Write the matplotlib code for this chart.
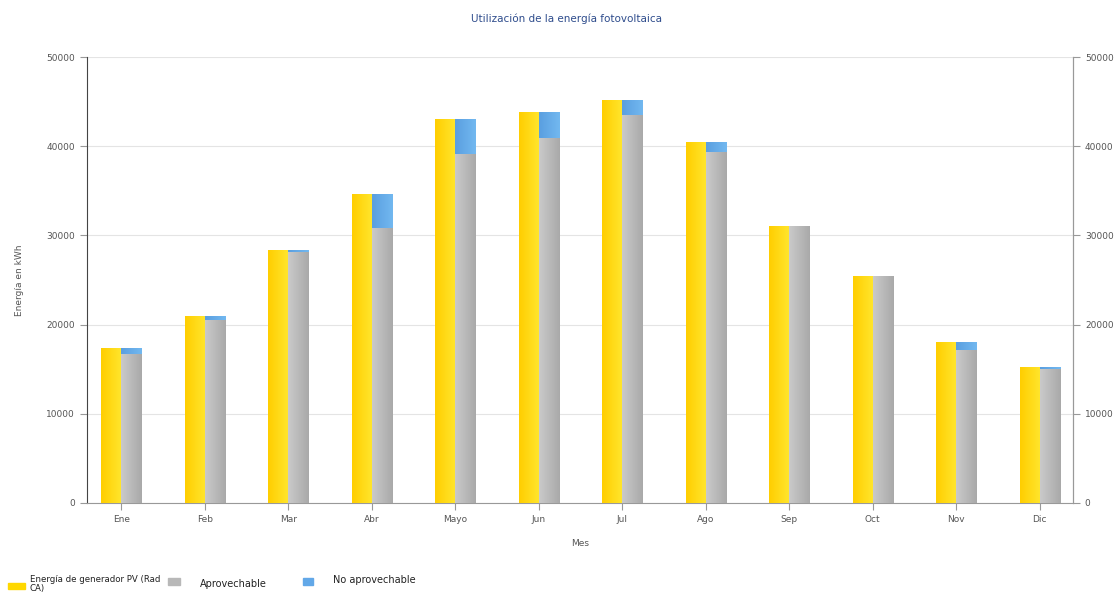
import matplotlib
matplotlib.use("Agg")
import matplotlib.pyplot as plt
import matplotlib.patches as mpatches
from matplotlib.colors import LinearSegmentedColormap
import numpy as np

# Datos (kWh)
meses = ["Ene", "Feb", "Mar", "Abr", "Mayo", "Jun", "Jul", "Ago", "Sep", "Oct", "Nov", "Dic"]
energia_pv = [17400, 21000, 28400, 34600, 43000, 43800, 45200, 40500, 31000, 25500, 18000, 15300]
aprovechable = [16700, 20500, 28100, 30800, 39100, 40900, 43500, 39300, 31000, 25500, 17100, 15000]
no_aprovechable = [pv - ap for pv, ap in zip(energia_pv, aprovechable)]
leyenda = ["Energía de generador PV (Rad\nCA)", "Aprovechable", "No aprovechable"]

amarillo = "#FFD800"
gris = "#B8B8B8"
azul = "#62A8E8"
texto = "#555555"

grad_amarillo = LinearSegmentedColormap.from_list("am", ["#FFCE00", "#FFE62E"])
grad_gris = LinearSegmentedColormap.from_list("gr", ["#CACACA", "#A9A9A9"])
grad_azul = LinearSegmentedColormap.from_list("az", ["#5A9FE0", "#72B8F0"])

W, H = 1118, 594
fig = plt.figure(figsize=(W / 100, H / 100), dpi=100)
ax = fig.add_axes([0.0778, 0.1532, 0.882, 0.7508])

x = np.arange(len(meses))
w = 0.24
b1 = ax.bar(x - w / 2, energia_pv, w, color=amarillo, zorder=3)
b2 = ax.bar(x + w / 2, aprovechable, w, color=gris, zorder=3)
b3 = ax.bar(x + w / 2, no_aprovechable, w, bottom=aprovechable, color=azul, zorder=3)

# degradado horizontal dentro de cada barra
grad = np.linspace(0, 1, 64).reshape(1, -1)
for barras, cmap in [(b1, grad_amarillo), (b2, grad_gris), (b3, grad_azul)]:
    for b in barras:
        x0, y0 = b.get_x(), b.get_y()
        x1, y1 = x0 + b.get_width(), y0 + b.get_height()
        if y1 - y0 <= 0:
            continue
        im = ax.imshow(grad, extent=[x0, x1, y0, y1], aspect="auto", cmap=cmap, zorder=3.5,
                       interpolation="bicubic")
        im.set_clip_path(b)

ax.set_xlim(-0.41, 11.4)
ax.set_ylim(0, 50000)
ax.set_yticks(np.arange(0, 50001, 10000))
ax.set_xticks(x)
ax.set_xticklabels(meses)
ax.grid(axis="y", color="#E4E4E4", linewidth=0.8, zorder=0)

ax.spines["top"].set_visible(False)
ax.spines["left"].set_color("#444444")
ax.spines["right"].set_color("#999999")
ax.spines["bottom"].set_color("#999999")
ax.tick_params(axis="both", labelsize=6.5, colors="#999999", labelcolor=texto, length=5)

ax2 = ax.twinx()
ax2.set_ylim(0, 50000)
ax2.set_yticks(np.arange(0, 50001, 10000))
for s in ["top", "left", "bottom"]:
    ax2.spines[s].set_visible(False)
ax2.spines["right"].set_color("#999999")
ax2.tick_params(axis="y", labelsize=6.5, colors="#999999", labelcolor=texto, length=5)

ax.set_xlabel("Mes", fontsize=6.5, color=texto, labelpad=11)
ax.set_ylabel("Energía en kWh", fontsize=6.5, color=texto, labelpad=16)
fig.text(0.507, 0.968, "Utilización de la energía fotovoltaica", ha="center", va="center",
         fontsize=7.5, color="#2E4C8C")

# leyenda colocada a mano (px desde arriba-izquierda)
def px(xp, yp):
    return xp / W, 1 - yp / H

items = [
    # color, caja (x, y, ancho, alto), texto (x, y), tamaño
    (amarillo, (8, 589, 17, 6), (30, 584), 6.2),
    (gris, (168, 585, 12, 7), (200, 584), 7),
    (azul, (303, 585, 10, 7), (333, 580), 7),
]
for (col, caja, pos_txt, fs), etiqueta in zip(items, leyenda):
    bx, by = px(caja[0], caja[1])
    fig.patches.append(mpatches.Rectangle((bx, by), caja[2] / W, caja[3] / H, color=col,
                                          transform=fig.transFigure, figure=fig))
    tx, ty = px(*pos_txt)
    fig.text(tx, ty, etiqueta, ha="left", va="center", fontsize=fs, color="#222222",
             linespacing=1.0)

fig.savefig("out.png", dpi=100)
